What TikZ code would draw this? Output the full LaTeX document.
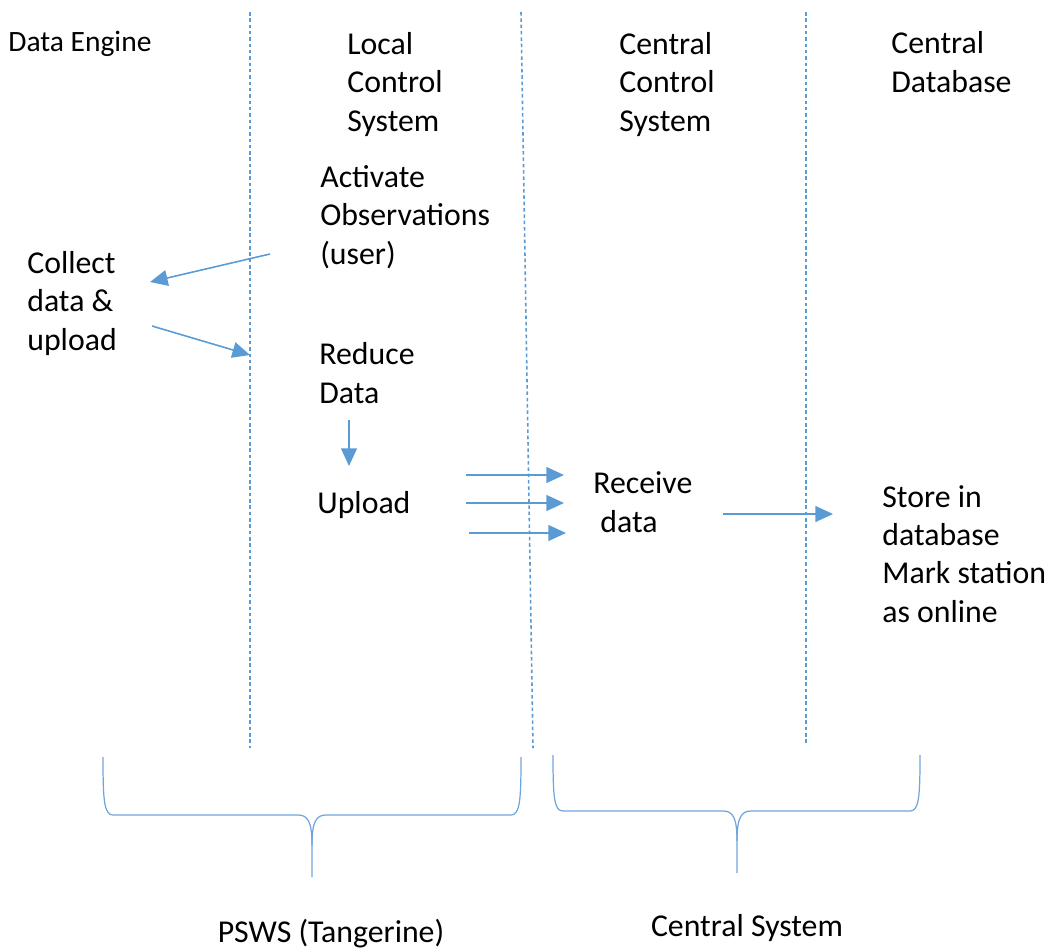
\documentclass[tikz,border=0pt]{standalone}
\usepackage{fontspec}
\setmainfont{Carlito}
\usepackage{tikz}
\usetikzlibrary{positioning,arrows.meta}
\definecolor{laneblue}{RGB}{91,155,213}
\definecolor{braceblue}{RGB}{110,165,220}

\begin{document}
\begin{tikzpicture}
      % Set up styles (nodes sit on the baseline of their last line)
      [x=0.02cm, y=-0.02cm,
       every node/.style={inner sep=0pt, anchor=base west, align=left,
                          font=\fontsize{18.1}{21.8}\selectfont},
       lane/.style={laneblue, line width=0.9pt, dash pattern=on 2pt off 1.6pt},
       flow/.style={laneblue, line width=0.9pt, -{Triangle[length=10pt,width=9pt]}},
       brace/.style={braceblue, line width=0.7pt}]

      \useasboundingbox (0,0) rectangle (1050,950);

      % Swim lane separators
      \draw[lane] (250,12) -- (250,748);
      \draw[lane] (521,12) -- (533,748);
      \draw[lane] (806,12) -- (806,745);

      % Column headers
      \node[font=\fontsize{16.8}{21}\selectfont] (engine) at (8,51) {Data Engine};
      \node (local) at (347,131) {Local\\Control\\System};
      \node (cctrl) at (619,131) {Central\\Control\\System};
      \node (cdb) at (891,92) {Central\\Database};

      % Steps
      \node (activate) at (320,264) {Activate\\Observations\\(user)};
      \node (collect) at (27,350) {Collect\\data \&\\upload};
      \node (reduce) at (319,403) {Reduce\\Data};
      \node (upload) at (317,513) {Upload};
      \node (receive) at (593,532) {Receive\\\hspace*{4pt}data};
      \node (store) at (882,622) {Store in\\database\\Mark station\\as online};

      % Arrow end points
      \coordinate (a1) at (270,254);
      \coordinate (a2) at (150,282);
      \coordinate (b1) at (152,326);
      \coordinate (b2) at (250,355);
      \coordinate (c1) at (349,420);
      \coordinate (c2) at (349,466);
      \coordinate (u1) at (466,475);
      \coordinate (r1) at (564,475);
      \coordinate (u2) at (466,503);
      \coordinate (r2) at (564,503);
      \coordinate (u3) at (469,533);
      \coordinate (r3) at (566,533);
      \coordinate (d1) at (723,514);
      \coordinate (d2) at (833,514);

      % Draw arrows
      \draw[flow] (a1) -- (a2);
      \draw[flow] (b1) -- (b2);
      \draw[flow] (c1) -- (c2);
      \draw[flow] (u1) -- (r1);
      \draw[flow] (u2) -- (r2);
      \draw[flow] (u3) -- (r3);
      \draw[flow] (d1) -- (d2);

      % Braces
      \draw[brace] (103,757) .. controls (103,800) and (104,815) .. (113,815) -- (298,815)
                   .. controls (308,815) and (312,822) .. (312,845) -- (312,877);
      \draw[brace] (521,757) .. controls (521,800) and (520,815) .. (511,815) -- (326,815)
                   .. controls (316,815) and (312,822) .. (312,845);
      \draw[brace] (553,755) .. controls (553,797) and (554,811) .. (563,811) -- (723,811)
                   .. controls (733,811) and (737,818) .. (737,841) -- (737,873);
      \draw[brace] (920,755) .. controls (920,797) and (919,811) .. (910,811) -- (751,811)
                   .. controls (741,811) and (737,818) .. (737,841);

      % Group labels
      \node[anchor=base] (psws) at (331,942) {PSWS (Tangerine)};
      \node[anchor=base] (central) at (747,936) {Central System};

\end{tikzpicture}
\end{document}
